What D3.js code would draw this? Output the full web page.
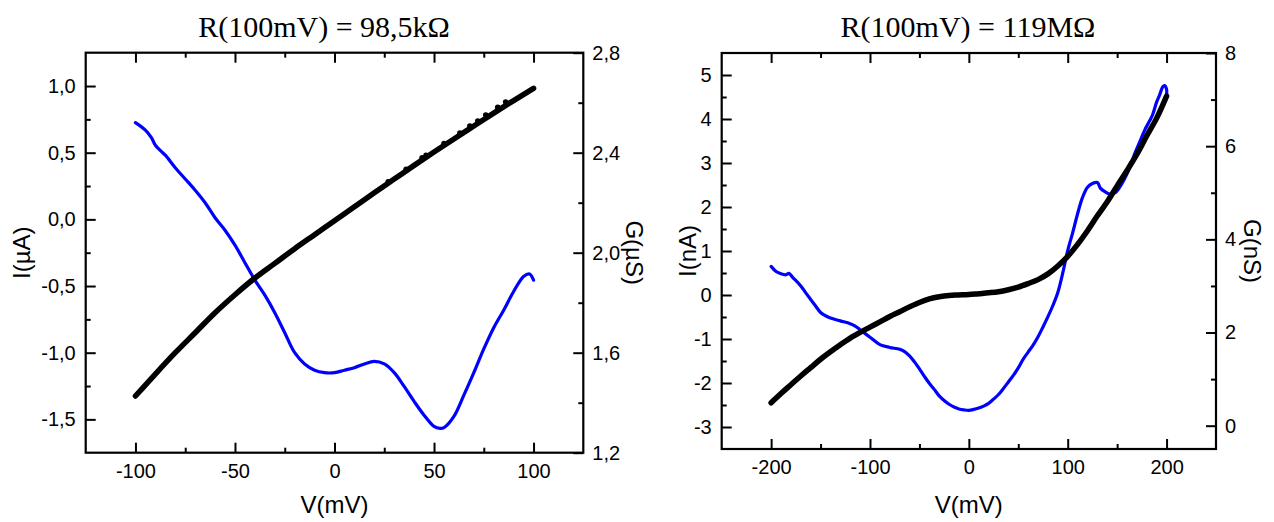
<!DOCTYPE html>
<html><head><meta charset="utf-8">
<script src="https://cdn.jsdelivr.net/npm/d3@7"></script>
<style>
body{margin:0;background:#fff}
svg{display:block}
.tk text,.lab{font-family:"Liberation Sans",Arial,sans-serif;fill:#000}
.ttl{font-family:"Liberation Serif","Times New Roman",serif;fill:#000}
</style>
</head><body>
<svg id="c" width="1274" height="522"></svg>
<script>
// ---------------- data ----------------
const leftTitle = "R(100mV) = 98,5kΩ";
const rightTitle = "R(100mV) = 119MΩ";

// Left panel: I(µA) vs V(mV)
const leftIV = [-100,-90,-80,-70,-60,-50,-40,-30,-20,-10,0,10,20,30,40,50,60,70,80,90,100];
const leftI  = [-1.325,-1.16,-1.0,-0.85,-0.70,-0.565,-0.44,-0.33,-0.22,-0.115,-0.01,0.095,0.2,0.302,0.405,0.505,0.603,0.70,0.797,0.891,0.983];
const leftNoiseV = [27,36,44,46,55,63,68,72,76,82,86];
const leftNoiseI = [0.282,0.375,0.462,0.48,0.568,0.648,0.70,0.738,0.782,0.84,0.88];
// Left panel: G(µS) vs V(mV)
const leftGV = [-100,-95,-92,-90,-87,-85,-80,-75,-70,-65,-60,-55,-50,-45,-40,-35,-30,-25,-20,-15,-10,-5,0,5,10,15,20,25,30,35,40,45,50,53,55,60,65,70,75,80,85,90,95,98,100];
const leftG  = [2.52,2.49,2.46,2.43,2.405,2.39,2.34,2.295,2.25,2.2,2.14,2.09,2.03,1.96,1.89,1.83,1.76,1.68,1.6,1.555,1.53,1.52,1.52,1.53,1.54,1.555,1.565,1.555,1.52,1.465,1.405,1.35,1.305,1.297,1.30,1.345,1.43,1.52,1.615,1.70,1.77,1.845,1.905,1.915,1.89];

// Right panel: I(nA) vs V(mV)
const rightIV = [-200,-190,-180,-170,-160,-150,-140,-130,-120,-110,-100,-90,-80,-70,-60,-50,-40,-30,-20,-10,0,10,20,30,40,50,60,70,80,90,100,110,120,130,140,150,160,170,180,190,200];
const rightI  = [-2.45,-2.24,-2.04,-1.84,-1.65,-1.46,-1.29,-1.13,-0.98,-0.85,-0.73,-0.61,-0.49,-0.38,-0.27,-0.17,-0.09,-0.04,-0.01,0.0,0.01,0.03,0.05,0.075,0.12,0.18,0.26,0.35,0.48,0.66,0.88,1.15,1.46,1.80,2.12,2.48,2.83,3.2,3.62,4.02,4.52];
// Right panel: G(nS) vs V(mV)
const rightGV = [-200,-195,-190,-185,-182,-178,-170,-165,-160,-155,-150,-145,-140,-130,-120,-115,-110,-100,-90,-80,-70,-65,-60,-55,-50,-45,-40,-35,-30,-25,-20,-15,-10,-5,0,5,10,15,20,25,30,35,40,45,50,55,60,65,70,75,80,85,90,95,100,105,110,115,120,125,130,133,138,143,148,152,157,163,168,173,178,183,186,190,193,196,198,200,200];
const rightG  = [3.42,3.31,3.26,3.24,3.27,3.18,3.0,2.85,2.71,2.57,2.43,2.36,2.31,2.25,2.19,2.14,2.06,1.90,1.74,1.68,1.64,1.59,1.50,1.37,1.22,1.06,0.91,0.78,0.64,0.54,0.46,0.40,0.36,0.34,0.33,0.35,0.38,0.42,0.48,0.57,0.67,0.80,0.94,1.08,1.24,1.43,1.58,1.73,1.91,2.12,2.34,2.58,2.86,3.28,3.76,4.14,4.55,4.9,5.12,5.2,5.22,5.1,5.02,4.97,5.0,5.1,5.28,5.55,5.85,6.1,6.35,6.55,6.68,6.95,7.1,7.27,7.30,7.22,7.1];

// tick values
const leftXTicks = [-100,-50,0,50,100];
const leftXMinor = [-75,-25,25,75];
const leftITicks = [-1.5,-1.0,-0.5,0.0,0.5,1.0];
const leftIMinor = [-1.25,-0.75,-0.25,0.25,0.75];
const leftGTicks = [1.2,1.6,2.0,2.4,2.8];
const leftGMinor = [1.4,1.8,2.2,2.6];
const rightXTicks = [-200,-100,0,100,200];
const rightXMinor = [-150,-50,50,150];
const rightITicks = [-3,-2,-1,0,1,2,3,4,5];
const rightIMinor = [-2.5,-1.5,-0.5,0.5,1.5,2.5,3.5,4.5];
const rightGTicks = [0,2,4,6,8];
const rightGMinor = [1,3,5,7];

// ---------------- drawing ----------------
const svg = d3.select("#c");
const comma1 = d => (d < 0 ? "-" : "") + Math.abs(d).toFixed(1).replace(".", ",");
const intf = d => (d < 0 ? "-" : "") + Math.abs(d);

function panel(o){
  const x = d3.scaleLinear().domain(o.xd).range([o.x0, o.x1]);
  const yI = d3.scaleLinear().domain(o.yd).range([o.y1, o.y0]);
  const yG = d3.scaleLinear().domain(o.gd).range([o.y1, o.y0]);
  const g = svg.append("g");
  const MAJ = 10, MIN = 5;

  function ax(gen, tr, vals, size, fmt, pad){
    const a = g.append("g").attr("class","tk").attr("transform", tr)
      .call(gen.tickValues(vals).tickSize(size).tickPadding(pad).tickFormat(fmt));
    a.select(".domain").remove();
    a.selectAll("line").attr("stroke","#000").attr("stroke-width",2);
    a.selectAll("text").attr("font-size", 20);
    return a;
  }
  const none = () => "";
  ax(d3.axisBottom(x), `translate(0,${o.y1})`, o.xt, -MAJ, intf, 11);
  ax(d3.axisBottom(x), `translate(0,${o.y1})`, o.xm, -MIN, none, 0);
  ax(d3.axisTop(x), `translate(0,${o.y0})`, o.xt, -MAJ, none, 0);
  ax(d3.axisTop(x), `translate(0,${o.y0})`, o.xm, -MIN, none, 0);
  ax(d3.axisLeft(yI), `translate(${o.x0},0)`, o.it, -MAJ, o.ifmt, 10);
  ax(d3.axisLeft(yI), `translate(${o.x0},0)`, o.im, -MIN, none, 0);
  ax(d3.axisRight(yG), `translate(${o.x1},0)`, o.gt, -MAJ, o.gfmt, 9);
  ax(d3.axisRight(yG), `translate(${o.x1},0)`, o.gm, -MIN, none, 0);

  g.append("rect").attr("x", o.x0).attr("y", o.y0)
    .attr("width", o.x1 - o.x0).attr("height", o.y1 - o.y0)
    .attr("fill","none").attr("stroke","#000").attr("stroke-width",2.2);

  const lineG = d3.line().x(d => x(d[0])).y(d => yG(d[1])).curve(d3.curveCatmullRom);
  const lineI = d3.line().x(d => x(d[0])).y(d => yI(d[1])).curve(d3.curveCatmullRom);
  g.append("path").datum(o.gv.map((v,i)=>[v,o.g[i]])).attr("d", lineG)
    .attr("fill","none").attr("stroke","#0000ff").attr("stroke-width",3.2)
    .attr("stroke-linecap","round").attr("stroke-linejoin","round");
  g.append("path").datum(o.iv.map((v,i)=>[v,o.i[i]])).attr("d", lineI)
    .attr("fill","none").attr("stroke","#000").attr("stroke-width",5.5)
    .attr("stroke-linecap","round").attr("stroke-linejoin","round");
  if (o.nv){
    g.selectAll(".nz").data(o.nv.map((v,k)=>[v,o.ni[k]])).enter().append("circle")
      .attr("cx", d => x(d[0])).attr("cy", d => yI(d[1])).attr("r", 2.8).attr("fill","#000");
  }

  const cx = (o.x0 + o.x1) / 2, cy = (o.y0 + o.y1) / 2;
  g.append("text").attr("class","ttl").attr("x", o.tx).attr("y", 37)
    .attr("text-anchor","middle").attr("font-size", 30).text(o.title);
  g.append("text").attr("class","lab").attr("x", cx).attr("y", 513)
    .attr("text-anchor","middle").attr("font-size", 24).text("V(mV)");
  g.append("text").attr("class","lab").attr("transform", `translate(${o.ilx},${cy}) rotate(-90)`)
    .attr("text-anchor","middle").attr("font-size", 24).text(o.ilab);
  g.append("text").attr("class","lab").attr("transform", `translate(${o.glx},${cy}) rotate(90)`)
    .attr("text-anchor","middle").attr("font-size", 24).text(o.glab);
}

panel({x0:85.7, x1:583.3, y0:52.7, y1:452.7, xd:[-125,125], yd:[-1.75,1.25], gd:[1.2,2.8],
  xt:leftXTicks, xm:leftXMinor, it:leftITicks, im:leftIMinor, gt:leftGTicks, gm:leftGMinor,
  ifmt:comma1, gfmt:comma1, iv:leftIV, i:leftI, gv:leftGV, g:leftG, nv:leftNoiseV, ni:leftNoiseI,
  title:leftTitle, tx:324, ilab:"I(µA)", glab:"G(µS)", ilx:30, glx:626});

panel({x0:721.7, x1:1216, y0:53, y1:449, xd:[-250,250], yd:[-3.5,5.5], gd:[-0.5,8],
  xt:rightXTicks, xm:rightXMinor, it:rightITicks, im:rightIMinor, gt:rightGTicks, gm:rightGMinor,
  ifmt:intf, gfmt:intf, iv:rightIV, i:rightI, gv:rightGV, g:rightG,
  title:rightTitle, tx:968, ilab:"I(nA)", glab:"G(nS)", ilx:696, glx:1244});
</script>
</body></html>
